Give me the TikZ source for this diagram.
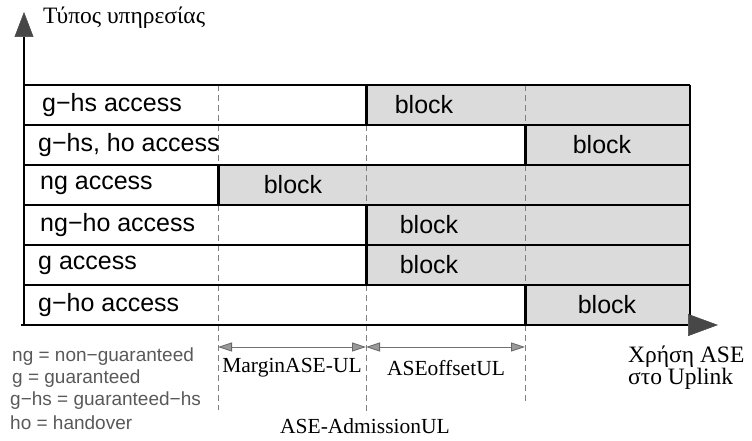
\documentclass[tikz,border=0pt]{standalone}
\usepackage{fontspec}
\setmainfont{Liberation Serif}
\newfontfamily\rowfont{Liberation Sans}
\usetikzlibrary{arrows.meta}
\begin{document}
\begin{tikzpicture}[x=1pt,y=-1pt,
  rowlabel/.style={anchor=west, font=\rowfont\fontsize{25}{30}\selectfont, inner sep=0pt},
  blocktxt/.style={font=\rowfont\fontsize{25}{30}\selectfont, inner sep=0pt},
  legend/.style={anchor=west, font=\rowfont\fontsize{19}{22}\selectfont, text=black!65, inner sep=0pt},
  serif/.style={font=\fontsize{21.5}{24}\selectfont, inner sep=0pt},
  greek/.style={font=\fontsize{23.5}{22}\selectfont, inner sep=0pt},
  grayfill/.style={fill=black!14},
  gridline/.style={line width=1.3pt},
  barline/.style={line width=3pt},
  guide/.style={dash pattern=on 6pt off 4pt, draw=black!50, line width=1pt},
  dim/.style={draw=black!55, line width=0.8pt, {Triangle[length=14pt,width=9pt,fill=black!40,color=black!60]}-{Triangle[length=14pt,width=9pt,fill=black!40,color=black!60]}},
  axisline/.style={line width=2pt}
]
\useasboundingbox (0,0) rectangle (752,441);

% shaded "block" regions
\fill[grayfill] (366,85) rectangle (690,125);
\fill[grayfill] (525,125) rectangle (690,165);
\fill[grayfill] (218,165) rectangle (690,205);
\fill[grayfill] (366,205) rectangle (690,245);
\fill[grayfill] (366,245) rectangle (690,285);
\fill[grayfill] (525,285) rectangle (690,325);

% guide coordinates
\coordinate (g1t) at (218,85);  \coordinate (g1b) at (218,410);
\coordinate (g2t) at (366,85);  \coordinate (g2b) at (366,414);
\coordinate (g3t) at (525,85);  \coordinate (g3b) at (525,403);
\draw[guide] (g1t) -- (g1b);
\draw[guide] (g2t) -- (g2b);
\draw[guide] (g3t) -- (g3b);

% table lines
\foreach \yy in {85,125,165,205,245,285}
  \draw[gridline] (24,\yy) -- (690,\yy);
\draw[gridline] (690,85) -- (690,325);

% thick threshold bars
\draw[barline] (366,85) -- (366,125);
\draw[barline] (525,125) -- (525,165);
\draw[barline] (218,165) -- (218,205);
\draw[barline] (366,205) -- (366,245);
\draw[barline] (366,245) -- (366,285);
\draw[barline] (525,285) -- (525,325);

% axes
\coordinate (origin) at (24,325);
\coordinate (ytip) at (24,12);
\coordinate (xstart) at (21,325);
\coordinate (xtip) at (718,325);
\draw[axisline, -{Triangle[length=25pt,width=19pt,fill=black!72,color=black!72,line width=0.5pt]}] (origin) -- (ytip);
\draw[axisline, -{Triangle[length=30pt,width=22pt,fill=black!72,color=black!72,line width=0.5pt]}] (xstart) -- (xtip);

% row labels
\node[rowlabel] (r1) at (42,105) {g−hs access};
\node[rowlabel] (r2) at (38,145) {g−hs, ho access};
\node[rowlabel] (r3) at (40,185) {ng access};
\node[rowlabel] (r4) at (40,225) {ng−ho access};
\node[rowlabel] (r5) at (38,265) {g access};
\node[rowlabel] (r6) at (38,305) {g−ho access};

% block labels
\node[blocktxt] (b1) at (424,105) {block};
\node[blocktxt] (b2) at (602,145) {block};
\node[blocktxt] (b3) at (293,185) {block};
\node[blocktxt] (b4) at (429,225) {block};
\node[blocktxt] (b5) at (429,265) {block};
\node[blocktxt] (b6) at (607,305) {block};

% axis labels
\node[greek, anchor=west] (ylab) at (43,18) {Τύπος υπηρεσίας};
\node[greek, anchor=west] (xlab1) at (628,357) {Χρήση ASE};
\node[greek, anchor=west] (xlab2) at (628,379) {στο Uplink};

% dimension arrows
\coordinate (d1) at (218,347);
\coordinate (d2) at (366,347);
\coordinate (d3) at (525,347);
\draw[dim] (d1) -- (d2);
\draw[dim] (d2) -- (d3);
\node[serif] (m1) at (292,368) {MarginASE-UL};
\node[serif] (m2) at (446,368) {ASEoffsetUL};
\node[serif] (m3) at (365,426) {ASE-AdmissionUL};

% legend
\node[legend] (l1) at (12,357) {ng = non−guaranteed};
\node[legend] (l2) at (12,379) {g = guaranteed};
\node[legend] (l3) at (10,401) {g−hs = guaranteed−hs};
\node[legend] (l4) at (10,423) {ho = handover};
\end{tikzpicture}
\end{document}
